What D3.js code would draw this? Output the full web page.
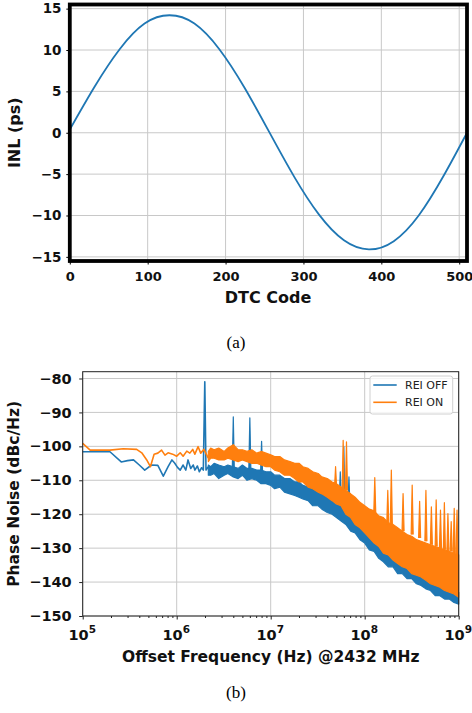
<!DOCTYPE html>
<html>
<head>
<meta charset="utf-8">
<script src="https://cdn.jsdelivr.net/npm/d3@7"></script>
<style>
body { margin: 0; background: #fff; }
svg { display: block; }
text { font-family: "DejaVu Sans", sans-serif; }
</style>
</head>
<body>
<svg id="fig" width="472" height="713"></svg>
<script>
// ---- data: (a) INL vs DTC code
var inlCodes  = [0, 32, 64, 96, 128, 160, 192, 224, 256, 288, 320, 352, 384, 416, 448, 480, 510];
var inlValues = [0.4, 5.6, 10.1, 13.2, 14.2, 13.2, 10.1, 5.5, 0.1, -5.3, -9.9, -13.0, -14.1, -13.1, -10.0, -5.2, 0.0];
var codeTicks = [0, 100, 200, 300, 400, 500];
var inlTicks  = [-15, -10, -5, 0, 5, 10, 15];

// ---- data: (b) phase noise, frequencies in MHz
// low offsets: plain lines [MHz, dBc/Hz]
var offLow = [[0.1,-101.6],[0.195,-101.6],[0.257,-104.6],[0.30,-104.2],[0.347,-104.0],[0.40,-105.5],
  [0.457,-107.0],[0.54,-105.5],[0.63,-105.6],[0.72,-108.8],[0.81,-106.0],[0.89,-104.0],[0.95,-104.9],
  [1.02,-106.2],[1.09,-107.0],[1.17,-105.5],[1.25,-107.0],[1.32,-104.0],[1.41,-106.5],[1.50,-105.5],
  [1.56,-107.0],[1.66,-105.8],[1.74,-107.5],[1.84,-106.3],[1.92,-107.0],[1.99,-81.0],[2.05,-107.0],[2.17,-106.0]];
var onLow = [[0.1,-99.1],[0.12,-101.1],[0.195,-101.1],[0.27,-100.7],[0.375,-100.9],[0.425,-101.9],
  [0.48,-104.0],[0.525,-106.0],[0.575,-102.3],[0.63,-102.0],[0.69,-101.1],[0.75,-102.6],[0.81,-101.9],
  [0.905,-102.3],[1.0,-102.9],[1.09,-101.9],[1.17,-102.9],[1.28,-101.4],[1.38,-102.0],[1.48,-100.9],
  [1.56,-102.3],[1.69,-100.1],[1.80,-102.0],[1.95,-100.9],[2.09,-102.6],[2.17,-103.5]];

// higher offsets: dense noise, kept as [MHz, top, bottom] of the band
var offBand = [[2.17,-105.5,-108.5],[2.3,-106.0,-108.5],[2.5,-105.0,-108.0],[2.8,-105.5,-109.5],
  [3.2,-106.0,-108.5],[3.5,-105.5,-108.0],[4.0,-106.0,-109.0],[4.5,-106.5,-109.5],[5.0,-105.5,-108.5],
  [5.6,-106.5,-110.0],[6.3,-106.5,-109.5],[7.1,-107.0,-110.0],[7.9,-107.0,-111.0],[8.9,-107.5,-111.0],
  [10,-107.5,-111.5],[11,-108.5,-112.5],[12.5,-108.5,-112.0],[14,-109.5,-113.5],[16,-109.5,-114.0],
  [18,-110.5,-114.5],[20,-110.5,-115.0],[22,-111.5,-115.5],[25,-112.0,-116.0],[28,-112.5,-117.5],
  [32,-113.5,-117.5],[35,-114.0,-118.5],[40,-114.5,-119.5],[45,-115.5,-120.0],[50,-116.0,-121.0],
  [56,-117.5,-122.0],[63,-118.5,-123.0],[71,-120.0,-125.0],[79,-121.5,-125.5],[89,-123.0,-127.5],
  [100,-124.0,-128.5],[112,-125.5,-130.5],[126,-127.0,-131.0],[141,-128.5,-133.0],[158,-129.5,-134.0],
  [178,-131.0,-135.5],[200,-132.0,-135.5],[224,-133.0,-137.5],[251,-134.0,-137.5],[282,-135.0,-139.0],
  [316,-135.5,-139.0],[355,-136.5,-140.5],[398,-137.0,-141.0],[447,-138.5,-142.0],[501,-139.0,-142.5],
  [562,-140.0,-144.0],[631,-140.5,-144.0],[708,-141.0,-145.0],[794,-141.5,-145.0],[891,-142.5,-146.0],
  [1000,-143.0,-146.5]];
var onBand = [[2.17,-101.5,-104.5],[2.3,-100.5,-103.5],[2.5,-101.0,-103.5],[2.8,-100.5,-104.0],
  [3.2,-101.5,-104.0],[3.5,-100.5,-103.5],[4.0,-99.5,-104.0],[4.5,-101.0,-104.5],[5.0,-101.0,-104.0],
  [5.6,-101.5,-104.5],[6.3,-101.0,-105.0],[7.1,-102.0,-105.0],[7.9,-101.5,-105.5],[8.9,-102.0,-106.0],
  [10,-102.5,-106.0],[11,-103.0,-107.0],[12.5,-103.0,-107.5],[14,-104.0,-108.5],[16,-104.5,-108.5],
  [18,-105.0,-109.5],[20,-105.0,-110.5],[22,-106.0,-110.5],[25,-106.5,-112.0],[28,-107.5,-112.5],
  [32,-108.0,-113.5],[35,-109.0,-114.0],[40,-109.5,-115.0],[45,-110.5,-116.0],[50,-111.0,-117.0],
  [56,-112.0,-117.5],[63,-113.0,-120.0],[71,-114.0,-121.0],[79,-115.0,-123.0],[89,-116.5,-124.0],
  [100,-117.5,-125.5],[112,-118.5,-127.0],[126,-119.0,-128.5],[141,-120.5,-129.5],[158,-121.0,-131.5],
  [178,-122.5,-132.0],[200,-123.0,-133.5],[224,-124.0,-134.5],[251,-125.0,-135.5],[282,-126.0,-136.0],
  [316,-126.5,-137.5],[355,-127.5,-138.0],[398,-128.0,-138.5],[447,-128.5,-139.5],[501,-129.0,-140.5],
  [562,-129.5,-141.0],[631,-130.0,-141.5],[708,-130.5,-142.5],[794,-131.0,-143.0],[891,-131.5,-143.5],
  [1000,-132.0,-144.5]];

// spurs [MHz, base, peak]
var offSpurs = [[4.0,-107,-91.3],[6.0,-107,-91.6],[8.0,-108,-98.5],[55,-116,-107.5],[60,-117,-100.1],[68,-118,-109]];
var onSpurs = [[49,-112,-106],[59,-113,-98.2],[64,-113,-98.7],[128,-120,-109.2],[176,-123,-113],[192,-123,-107],
  [256,-125,-113.9],[320,-126,-111.4],[384,-127,-116.2],[448,-128,-113],[512,-129,-117.8],[576,-129.5,-115.8],
  [640,-130,-118.8],[704,-130.5,-116.6],[768,-131,-119.8],[832,-131,-122.2],[896,-131.5,-118.3],[960,-132,-118.8]];

var pnTicks   = [-150, -140, -130, -120, -110, -100, -90, -80];
var decades   = [5, 6, 7, 8, 9];
var seriesNames = ['REI OFF', 'REI ON'];

var blue = '#1f77b4', orange = '#ff7f0e', gridColor = '#c8c8c8';

var svg = d3.select('#fig');

// ================= (a) =================
var xA = d3.scaleLinear().domain([0, 510]).range([69.8, 467]),
    yA = d3.scaleLinear().domain([-15.5, 15.5]).range([261, 4.5]);

var gA = svg.append('g');

gA.append('g').selectAll('line').data(codeTicks).join('line')
  .attr('x1', d => xA(d)).attr('x2', d => xA(d))
  .attr('y1', yA.range()[1]).attr('y2', yA.range()[0])
  .attr('stroke', gridColor).attr('stroke-width', 1);
gA.append('g').selectAll('line').data(inlTicks).join('line')
  .attr('y1', d => yA(d)).attr('y2', d => yA(d))
  .attr('x1', xA.range()[0]).attr('x2', xA.range()[1])
  .attr('stroke', gridColor).attr('stroke-width', 1);

var inlLine = d3.line()
  .curve(d3.curveNatural)
  .x((d, i) => xA(inlCodes[i]))
  .y(d => yA(d));

gA.append('path').datum(inlValues)
  .attr('d', inlLine)
  .attr('fill', 'none').attr('stroke', blue).attr('stroke-width', 1.8);

gA.append('rect')
  .attr('x', xA.range()[0]).attr('y', yA.range()[1])
  .attr('width', xA.range()[1] - xA.range()[0])
  .attr('height', yA.range()[0] - yA.range()[1])
  .attr('fill', 'none').attr('stroke', '#000').attr('stroke-width', 3.8);

var axA_y = gA.append('g')
  .attr('transform', `translate(${xA.range()[0]},0)`)
  .call(d3.axisLeft(yA).tickValues(inlTicks).tickSize(3.5).tickPadding(4.8));
var axA_x = gA.append('g')
  .attr('transform', `translate(0,${yA.range()[0]})`)
  .call(d3.axisBottom(xA).tickValues(codeTicks).tickSize(3.5).tickPadding(4));
[axA_y, axA_x].forEach(function(ax) {
  ax.select('.domain').remove();
  ax.selectAll('line').attr('stroke', '#000');
  ax.selectAll('text').attr('font-family', 'DejaVu Sans').attr('font-weight', 'bold')
    .attr('font-size', 13.5).attr('fill', '#111');
});
axA_x.selectAll('text').attr('y', 15.7).attr('dy', '0.36em').attr('font-size', 13);

gA.append('text')
  .attr('transform', `translate(20,${(yA.range()[0] + yA.range()[1]) / 2}) rotate(-90)`)
  .attr('text-anchor', 'middle').attr('font-weight', 'bold').attr('font-size', 16)
  .attr('fill', '#111').text('INL (ps)');
gA.append('text')
  .attr('x', 268).attr('y', 302.5)
  .attr('text-anchor', 'middle').attr('font-weight', 'bold').attr('font-size', 16)
  .attr('fill', '#111').text('DTC Code');

svg.append('text')
  .attr('x', 236).attr('y', 348)
  .attr('text-anchor', 'middle').style('font-family', '"Liberation Serif", serif')
  .attr('font-size', 17).text('(a)');

// ================= (b) =================
var xB = d3.scaleLog().domain([1e5, 1e9]).range([82.7, 458.7]),
    yB = d3.scaleLinear().domain([-150, -78]).range([616, 371.7]);
var hz = d => d * 1e6;

var gB = svg.append('g');

gB.append('g').selectAll('line').data(decades).join('line')
  .attr('x1', d => xB(Math.pow(10, d))).attr('x2', d => xB(Math.pow(10, d)))
  .attr('y1', yB.range()[1]).attr('y2', yB.range()[0])
  .attr('stroke', gridColor).attr('stroke-width', 1);
gB.append('g').selectAll('line').data(pnTicks).join('line')
  .attr('y1', d => yB(d)).attr('y2', d => yB(d))
  .attr('x1', xB.range()[0]).attr('x2', xB.range()[1])
  .attr('stroke', gridColor).attr('stroke-width', 1);

var pnLine = d3.line().x(d => xB(hz(d[0]))).y(d => yB(d[1]));
var pnBand = d3.area().x(d => xB(hz(d[0]))).y0(d => yB(d[2])).y1(d => yB(d[1]));
var spur = d => `M${xB(hz(d[0] * 0.975))},${yB(d[1])}L${xB(hz(d[0]))},${yB(d[2])}L${xB(hz(d[0] * 1.025))},${yB(d[1])}`;

function drawSeries(low, band, spurs, color) {
  var g = gB.append('g')
    .attr('stroke', color).attr('stroke-width', 1.6)
    .attr('stroke-linejoin', 'round');
  g.append('path').datum(band).attr('d', pnBand).attr('fill', color).attr('stroke-width', 1.2);
  g.append('path').datum(low).attr('d', pnLine).attr('fill', 'none');
  g.selectAll('.spur').data(spurs).join('path').attr('class', 'spur')
    .attr('d', spur).attr('fill', color).attr('stroke-width', 1.2);
}
drawSeries(offLow, offBand, offSpurs, blue);
drawSeries(onLow, onBand, onSpurs, orange);

gB.append('rect')
  .attr('x', xB.range()[0]).attr('y', yB.range()[1])
  .attr('width', xB.range()[1] - xB.range()[0])
  .attr('height', yB.range()[0] - yB.range()[1])
  .attr('fill', 'none').attr('stroke', '#222').attr('stroke-width', 1);

var axB_y = gB.append('g')
  .attr('transform', `translate(${xB.range()[0]},0)`)
  .call(d3.axisLeft(yB).tickValues(pnTicks).tickSize(3.5).tickPadding(7.5));
axB_y.select('.domain').remove();
axB_y.selectAll('line').attr('stroke', '#222');
axB_y.selectAll('text').attr('font-family', 'DejaVu Sans').attr('font-weight', 'bold')
  .attr('font-size', 14.5).attr('fill', '#111');

var minorTicks = xB.ticks().filter(d => decades.indexOf(Math.round(Math.log10(d) * 1000) / 1000) < 0);
var axB_minor = gB.append('g')
  .attr('transform', `translate(0,${yB.range()[0]})`)
  .call(d3.axisBottom(xB).tickValues(minorTicks).tickSize(2).tickFormat(''));
var axB_x = gB.append('g')
  .attr('transform', `translate(0,${yB.range()[0]})`)
  .call(d3.axisBottom(xB).tickValues(decades.map(d => Math.pow(10, d))).tickSize(3.5).tickFormat(''));
[axB_minor, axB_x].forEach(function(ax) {
  ax.select('.domain').remove();
  ax.selectAll('line').attr('stroke', '#222');
});

var xLab = gB.append('g').selectAll('text').data(decades).join('text')
  .attr('x', d => xB(Math.pow(10, d)) - 0.5).attr('y', 640.3)
  .attr('text-anchor', 'middle').attr('font-weight', 'bold').attr('font-size', 14.5).attr('fill', '#111');
xLab.append('tspan').text('10');
xLab.append('tspan').attr('dy', -7).attr('font-size', 10.5).text(d => d);

gB.append('text')
  .attr('transform', `translate(19,${(yB.range()[0] + yB.range()[1]) / 2}) rotate(-90)`)
  .attr('text-anchor', 'middle').attr('font-weight', 'bold').attr('font-size', 15.5)
  .attr('fill', '#111').text('Phase Noise (dBc/Hz)');
gB.append('text')
  .attr('x', 270.8).attr('y', 662)
  .attr('text-anchor', 'middle').attr('font-weight', 'bold').attr('font-size', 15.5)
  .attr('fill', '#111').text('Offset Frequency (Hz) @2432 MHz');

// legend
var leg = gB.append('g').attr('transform', 'translate(370,376)');
leg.append('rect')
  .attr('width', 82.7).attr('height', 38).attr('rx', 2.5)
  .attr('fill', '#fff').attr('fill-opacity', 0.8)
  .attr('stroke', '#d0d0d0').attr('stroke-width', 1);
var legItem = leg.selectAll('.item').data(seriesNames).join('g').attr('class', 'item')
  .attr('transform', (d, i) => `translate(0,${9 + i * 17.3})`);
legItem.append('line')
  .attr('x1', 3.3).attr('x2', 26.7)
  .attr('stroke', (d, i) => i ? orange : blue).attr('stroke-width', 1.6);
legItem.append('text')
  .attr('x', 35).attr('dy', '0.36em')
  .attr('font-size', 11).attr('fill', '#222').text(d => d);

svg.append('text')
  .attr('x', 236).attr('y', 698)
  .attr('text-anchor', 'middle').style('font-family', '"Liberation Serif", serif')
  .attr('font-size', 17).text('(b)');
</script>
</body>
</html>
